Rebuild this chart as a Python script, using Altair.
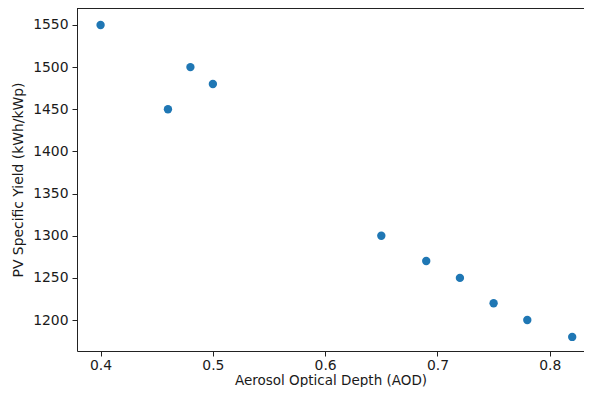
import altair as alt
import pandas as pd

aod = [0.40, 0.46, 0.48, 0.50, 0.65, 0.69, 0.72, 0.75, 0.78, 0.82]
yield_kwh = [1550, 1450, 1500, 1480, 1300, 1270, 1250, 1220, 1200, 1180]
x_ticks = [0.4, 0.5, 0.6, 0.7, 0.8]
y_ticks = [1200, 1250, 1300, 1350, 1400, 1450, 1500, 1550]

df = pd.DataFrame({"aod": aod, "yield": yield_kwh})

W, H = 507, 343
FONT = "DejaVu Sans"

points = alt.Chart(df).mark_circle(size=70, opacity=1, color="#1f77b4").encode(
    x=alt.X("aod:Q", title="Aerosol Optical Depth (AOD)",
            scale=alt.Scale(domain=[0.379, 0.8305], nice=False, zero=False),
            axis=alt.Axis(values=x_ticks, format=".1f", grid=False, tickSize=5,
                          labelPadding=2, titlePadding=2, titleFontSize=13.5)),
    y=alt.Y("yield:Q", title="PV Specific Yield (kWh/kWp)",
            scale=alt.Scale(domain=[1163.3, 1570.1], nice=False, zero=False),
            axis=alt.Axis(values=y_ticks, format="d", grid=False, tickSize=5,
                          labelPadding=4, titlePadding=7)),
)

top = alt.Chart(df).mark_rule(color="#222222", strokeWidth=1).encode(
    x=alt.value(0), x2=alt.value(W), y=alt.value(0)
)

chart = alt.layer(points, top).properties(
    width=W, height=H,
    autosize=alt.AutoSizeParams(type="none"),
    padding={"left": 69, "top": 0, "right": 0, "bottom": 36},
).configure_view(stroke=None).configure_axis(
    domainColor="#222222", tickColor="#222222", labelColor="#1a1a1a",
    titleColor="#1a1a1a", labelFont=FONT, titleFont=FONT,
    labelFontSize=13.9, titleFontSize=13.9, titleFontWeight="normal",
    domainWidth=1, tickWidth=1,
)

chart.save("out.html", embed_options={"renderer": "svg", "actions": False})
